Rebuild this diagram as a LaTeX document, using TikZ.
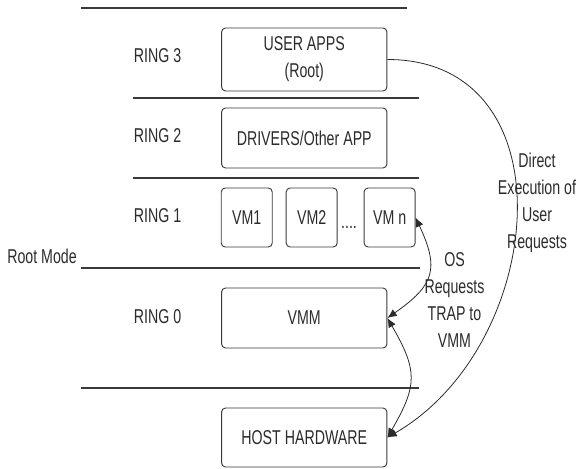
\documentclass[tikz,border=0pt]{standalone}
\usepackage{fontspec}
\setmainfont{Liberation Sans}[FakeStretch=0.71]
\usepackage{tikz}
\usetikzlibrary{arrows.meta,positioning}
\definecolor{RingInk}{HTML}{2B2B2B}
\definecolor{RingLine}{HTML}{3A3A3A}

\begin{document}
\begin{tikzpicture}[x=0.75pt,y=0.75pt,
  font=\fontsize{15}{20.25}\selectfont,
  layer/.style={draw=RingLine,rounded corners=3pt,line width=0.7pt,align=center,inner sep=0pt,text=RingInk,minimum width=124pt,minimum height=45pt},
  vmbox/.style={layer,minimum width=38.25pt,minimum height=44.25pt},
  ringlbl/.style={text=RingInk},
  divider/.style={RingLine,line width=0.8pt},
  biarr/.style={{Latex[length=7pt,width=6pt]}-{Latex[length=7pt,width=6pt]},RingInk,line width=0.6pt},
  arr/.style={-{Latex[length=7pt,width=6pt]},RingInk,line width=0.6pt},
  note/.style={text=RingInk,align=center},
]
\useasboundingbox (0,0) rectangle (577,468);
% ring separators
\draw[divider] (81,460) -- (407,460);
\draw[divider] (132.5,370) -- (419,370);
\draw[divider] (132.5,290) -- (419,290);
\draw[divider] (81,200) -- (419.5,200);
\draw[divider] (81,80) -- (419,80);
% ring contents
\node[layer,minimum height=47.25pt] (user) at (304.25,408.5) {USER APPS\\(Root)};
\node[layer] (drivers) at (304.25,330) {DRIVERS/Other APP};
\node[vmbox] (vm1) at (246.75,250.5) {VM1};
\node[vmbox,right=9.75pt of vm1] (vm2) {VM2};
\node[vmbox,right=19.5pt of vm2] (vmn) {VM n};
\node[ringlbl,anchor=base] (dots) at (349,239) {....};
\node[layer] (vmm) at (304.25,150) {VMM};
\node[layer,minimum height=44.25pt] (host) at (304.25,30.5) {HOST HARDWARE};
% ring names
\node[ringlbl] (r3) at (157.5,412) {RING 3};
\node[ringlbl] (r2) at (157.5,332) {RING 2};
\node[ringlbl] (r1) at (157.5,252) {RING 1};
\node[ringlbl] (r0) at (157.5,151) {RING 0};
\node[ringlbl] (root) at (42,212) {Root Mode};
% traps and direct execution
\draw[biarr] (vmn.east) to[out=-65,in=35,looseness=1.4] (vmm.east);
\draw[biarr] (vmm.east) to[out=-60,in=60,looseness=1.3] (host.east);
\draw[arr] (user.east) to[out=0,in=30,looseness=1.25] (host.east);
\node[note] (trap) at (454.5,168) {OS\\Requests\\TRAP to\\VMM};
\node[note] (direct) at (537,265) {Direct\\Execution of\\User\\Requests};
\end{tikzpicture}
\end{document}
